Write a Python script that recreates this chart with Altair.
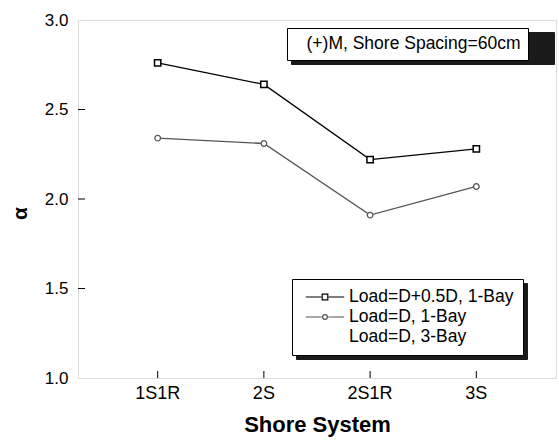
import altair as alt
import pandas as pd

categories = ["1S1R", "2S", "2S1R", "3S"]
series_names = ["Load=D+0.5D, 1-Bay", "Load=D, 1-Bay", "Load=D, 3-Bay"]
s1 = [2.76, 2.64, 2.22, 2.28]
s2 = [2.34, 2.31, 1.91, 2.07]
y_tick_values = [1.0, 1.5, 2.0, 2.5, 3.0]
note = "(+)M, Shore Spacing=60cm"

rows = []
for c, v in zip(categories, s1):
    rows.append({"system": c, "alpha": v, "series": series_names[0]})
for c, v in zip(categories, s2):
    rows.append({"system": c, "alpha": v, "series": series_names[1]})
df = pd.DataFrame(rows)

FONT = "Liberation Sans"
W, H = 478, 358

xs = alt.Scale(domain=categories, padding=0.5)
ys = alt.Scale(domain=[1.0, 3.0], nice=False, zero=False)
color_scale = alt.Scale(domain=series_names, range=["#000000", "#555555", "#ffffff"])

sq = "M-2.4,0H-0.45M0.45,0H2.4M-0.35,-0.35H0.35V0.35H-0.35Z"
ci = "M-2.4,0H-0.4M0.4,0H2.4M0.3,0A0.3,0.3 0 1,1 -0.3,0A0.3,0.3 0 1,1 0.3,0Z"
sym_expr = (
    f"datum.value === '{series_names[0]}' ? '{sq}' : "
    f"(datum.value === '{series_names[1]}' ? '{ci}' : 'M0,0')"
)

# legend layout (front boxes and their drop shadows share these)
LEG_X, LEG_Y = 214, 259
series_leg_common = dict(
    orient="none", padding=9, labelFontSize=17.5, labelFont=FONT,
    symbolSize=256, symbolOffset=15, rowPadding=2, labelLimit=400,
)
SERIES_LABEL_W = 164.4   # width of the longest series label
NOTE_X, NOTE_Y = 209, 8
note_leg_common = dict(
    orient="none", padding=7, labelFontSize=17.5, labelFont=FONT,
    symbolOffset=-5, symbolSize=1, labelLimit=400,
)
NOTE_SHADOW_OFFSET = 236
SH = 4
SHADOW = "#1a1a1a"

x_enc = alt.X(
    "system:N", scale=xs, sort=categories, title="Shore System",
    axis=alt.Axis(labelAngle=0, ticks=False, labelPadding=6, labelFontSize=18,
                  titleFontSize=22, titleFontWeight="bold", titlePadding=12,
                  domain=False, labelFont=FONT, titleFont=FONT, labelColor="black",
                  titleColor="black"),
)
y_enc = alt.Y(
    "alpha:Q", scale=ys, title="α",
    axis=alt.Axis(values=y_tick_values, format=".1f", ticks=False, grid=False,
                  labelPadding=10, labelFontSize=17, titleFontSize=21,
                  titleFontWeight="bold", titlePadding=14, domain=False,
                  labelFont=FONT, titleFont=FONT, labelColor="black",
                  titleColor="black", titleY=193),
)

lines = alt.Chart(df).mark_line(strokeWidth=1.3).encode(
    x=x_enc,
    y=y_enc,
    color=alt.Color(
        "series:N", scale=color_scale, title=None,
        legend=alt.Legend(
            legendX=LEG_X, legendY=LEG_Y, fillColor="white",
            strokeColor="black", labelColor="black", symbolStrokeWidth=1.2,
            values=series_names, symbolFillColor="white", labelOffset=15,
            symbolType=alt.ExprRef(expr=sym_expr), zindex=3,
            **series_leg_common,
        ),
    ),
)

p1 = alt.Chart(df).transform_filter(
    alt.datum.series == series_names[0]
).mark_point(shape="square", filled=False, fill="white", size=40,
             strokeWidth=1.5, color="#000000", opacity=1).encode(
    x=alt.X("system:N", scale=xs, sort=categories),
    y=alt.Y("alpha:Q", scale=ys),
)
p2 = alt.Chart(df).transform_filter(
    alt.datum.series == series_names[1]
).mark_point(shape="circle", filled=False, fill="white", size=32,
             strokeWidth=1.3, color="#555555", opacity=1).encode(
    x=alt.X("system:N", scale=xs, sort=categories),
    y=alt.Y("alpha:Q", scale=ys),
)

ytick_df = pd.DataFrame({"v": y_tick_values[1:-1]})
yticks = alt.Chart(ytick_df).mark_rule(color="black", strokeWidth=1).encode(
    y=alt.Y("v:Q", scale=ys),
    x=alt.value(0),
    x2=alt.value(7),
)
xtick_df = pd.DataFrame({"system": categories})
xticks = alt.Chart(xtick_df).mark_rule(color="black", strokeWidth=1).encode(
    x=alt.X("system:N", scale=xs, sort=categories),
    y=alt.value(H),
    y2=alt.value(H - 7),
)

# drop shadow of the series legend box (no text of its own)
shadow_df = pd.DataFrame({"series_shadow": series_names})
series_shadow = alt.Chart(shadow_df).mark_point(opacity=0).encode(
    strokeDash=alt.StrokeDash(
        "series_shadow:N", title=None, sort=series_names,
        legend=alt.Legend(
            legendX=LEG_X + SH, legendY=LEG_Y + SH, fillColor=SHADOW,
            strokeColor=SHADOW, symbolOpacity=0, symbolType="square",
            labelExpr="''", labelOffset=15 + SERIES_LABEL_W, zindex=1,
            **series_leg_common,
        ),
    ),
)

note_df = pd.DataFrame({"note": [note]})
note_layer = alt.Chart(note_df).mark_point(opacity=0).encode(
    shape=alt.Shape(
        "note:N", title=None,
        legend=alt.Legend(
            legendX=NOTE_X, legendY=NOTE_Y, fillColor="white",
            strokeColor="black", labelColor="black", symbolOpacity=0,
            symbolStrokeWidth=0, labelOffset=0, zindex=3, **note_leg_common,
        ),
    ),
)
note_shadow_df = pd.DataFrame({"note_shadow": [note]})
note_shadow = alt.Chart(note_shadow_df).mark_point(opacity=0).encode(
    strokeDash=alt.StrokeDash(
        "note_shadow:N", title=None,
        legend=alt.Legend(
            legendX=NOTE_X + SH, legendY=NOTE_Y + SH, fillColor=SHADOW,
            strokeColor=SHADOW, symbolOpacity=0, symbolStrokeWidth=0,
            symbolType="square",
            labelExpr="''", labelOffset=NOTE_SHADOW_OFFSET, zindex=1,
            **note_leg_common,
        ),
    ),
)

chart = alt.layer(
    series_shadow, note_shadow, lines, p2, p1, yticks, xticks, note_layer
).resolve_scale(
    strokeDash="independent"
).resolve_legend(
    strokeDash="independent"
).properties(
    width=W, height=H,
    padding={"left": 78, "top": 20, "right": 3, "bottom": 66},
    autosize=alt.AutoSizeParams(type="none"),
).configure_view(
    stroke="black", strokeWidth=1.2
).configure(background="white")

chart.save("out.html", embed_options={"renderer": "svg", "actions": False})
